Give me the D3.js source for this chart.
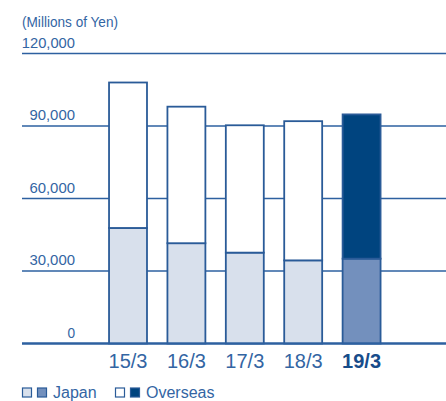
<!DOCTYPE html>
<html>
<head>
<meta charset="utf-8">
<script src="https://cdn.jsdelivr.net/npm/d3@7"></script>
<style>
  html, body { margin: 0; padding: 0; background: #fff; }
  svg { display: block; font-family: "Liberation Sans", Arial, sans-serif; }
</style>
</head>
<body>
<svg id="chart" width="446" height="401"></svg>
<script>
// Net sales by region, millions of yen
const years = ["15/3", "16/3", "17/3", "18/3", "19/3"];
const japan = [47800, 41500, 37600, 34400, 35100];
const overseas = [60200, 56500, 52700, 57600, 59700];
const yTicks = [0, 30000, 60000, 90000, 120000];
const unitLabel = "(Millions of Yen)";
const legendLabels = ["Japan", "Overseas"];

const lineColor = "#2d60a0";
const textColor = "#3365a3";
const strokeColor = "#2a5b98";
const japanLight = "#d8e0ec";
const japanDark = "#7390bd";
const overseasDark = "#00447f";

const svg = d3.select("#chart");

const x = d3.scaleBand()
  .domain(years)
  .range([88.6, 401])
  .paddingInner(0.35)
  .paddingOuter(0.35);

const y = d3.scaleLinear()
  .domain([0, 120000])
  .range([343.5, 53.5]);

const fmt = d3.format(",");

// Horizontal gridlines with value labels above them
const grid = svg.append("g");
grid.selectAll("line")
  .data(yTicks)
  .join("line")
  .attr("x1", 22)
  .attr("x2", 446)
  .attr("y1", d => y(d))
  .attr("y2", d => y(d))
  .attr("stroke", lineColor)
  .attr("stroke-width", d => d === 0 ? 2 : 1.4);

grid.selectAll("text")
  .data(yTicks)
  .join("text")
  .attr("x", 75)
  .attr("y", d => y(d) - 6)
  .attr("text-anchor", "end")
  .attr("fill", textColor)
  .attr("font-size", "15px")
  .attr("textLength", d => fmt(d).length * 7.6)
  .attr("lengthAdjust", "spacingAndGlyphs")
  .text(d => fmt(d));

svg.append("text")
  .attr("x", 22)
  .attr("y", 27)
  .attr("fill", textColor)
  .attr("font-size", "14.5px")
  .attr("textLength", 96)
  .attr("lengthAdjust", "spacingAndGlyphs")
  .text(unitLabel);

// Stacked bars: Japan at the bottom, overseas on top
const last = years.length - 1;
const bars = svg.append("g");
const rows = years.map((yr, i) => ({ yr, i, jp: japan[i], os: overseas[i] }));

bars.selectAll("rect.jp")
  .data(rows)
  .join("rect")
  .attr("class", "jp")
  .attr("x", d => x(d.yr))
  .attr("width", x.bandwidth())
  .attr("y", d => y(d.jp))
  .attr("height", d => y(0) - y(d.jp))
  .attr("fill", d => d.i === last ? japanDark : japanLight)
  .attr("stroke", strokeColor)
  .attr("stroke-width", 1.8);

bars.selectAll("rect.os")
  .data(rows)
  .join("rect")
  .attr("class", "os")
  .attr("x", d => x(d.yr))
  .attr("width", x.bandwidth())
  .attr("y", d => y(d.jp + d.os))
  .attr("height", d => y(d.jp) - y(d.jp + d.os))
  .attr("fill", d => d.i === last ? overseasDark : "#ffffff")
  .attr("stroke", strokeColor)
  .attr("stroke-width", 1.8);

// Redraw the baseline over the bar bottoms
svg.append("line")
  .attr("x1", 22).attr("x2", 446)
  .attr("y1", y(0)).attr("y2", y(0))
  .attr("stroke", lineColor)
  .attr("stroke-width", 2);

// Category labels
svg.append("g").selectAll("text")
  .data(rows)
  .join("text")
  .attr("x", d => x(d.yr) + x.bandwidth() / 2)
  .attr("y", 368)
  .attr("text-anchor", "middle")
  .attr("font-size", "20px")
  .attr("font-weight", d => d.i === last ? "bold" : "normal")
  .attr("fill", d => d.i === last ? "#174c8a" : textColor)
  .text(d => d.yr);

// Legend
const legend = svg.append("g");
const legendItems = [
  { label: legendLabels[0], colors: [japanLight, japanDark], x: 22 },
  { label: legendLabels[1], colors: ["#ffffff", overseasDark], x: 115 }
];
legendItems.forEach(item => {
  item.colors.forEach((c, k) => {
    legend.append("rect")
      .attr("x", item.x + k * 15 + 0.5)
      .attr("y", 388)
      .attr("width", 9)
      .attr("height", 9)
      .attr("fill", c)
      .attr("stroke", strokeColor)
      .attr("stroke-width", 1.2);
  });
  legend.append("text")
    .attr("x", item.x + 31)
    .attr("y", 397.5)
    .attr("font-size", "16px")
    .attr("fill", textColor)
    .text(item.label);
});
</script>
</body>
</html>
